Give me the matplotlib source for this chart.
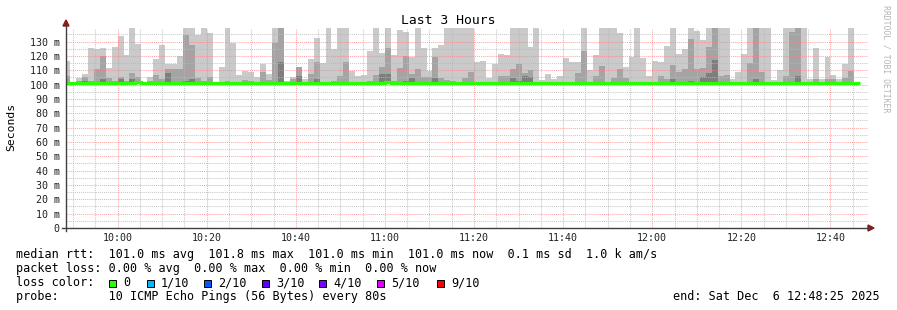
import matplotlib
matplotlib.use("Agg")
import matplotlib.pyplot as plt
from matplotlib.patches import Polygon, Rectangle
from matplotlib.lines import Line2D
from matplotlib.ticker import MultipleLocator, FuncFormatter

W, H = 897, 310
MONO = "DejaVu Sans Mono"

# rrd step layout (seconds of the day)
step_s = 80
first_step_s = 9 * 3600 + 48 * 60          # 09:48:00
view_start_s = 9 * 3600 + 48 * 60 + 25     # 09:48:25
view_end_s = 12 * 3600 + 48 * 60 + 25      # 12:48:25

# smoke: highest, 2nd and 3rd highest of the 10 pings per step (ms)
ping_max = [
    116.5, 102.0, 104.6, 107.4, 125.5, 124.8, 125.5, 111.6, 126.2, 133.9,
    121.0, 140.0, 128.3, 101.2, 105.3, 117.8, 127.6, 114.4, 114.4, 120.0,
    140.0, 140.0, 134.6, 140.0, 136.0, 101.2, 112.0, 140.0, 129.3, 106.7,
    109.8, 109.0, 105.1, 114.4, 107.4, 140.0, 140.0, 102.8, 105.3, 112.3,
    104.0, 117.8, 132.5, 114.8, 140.0, 124.8, 140.0, 140.0, 109.7, 106.0,
    106.7, 123.4, 140.0, 121.8, 140.0, 121.0, 138.0, 136.7, 119.3, 140.0,
    125.5, 109.5, 125.5, 127.6, 140.0, 140.0, 140.0, 140.0, 140.0, 115.8,
    116.5, 104.6, 114.4, 121.5, 121.0, 140.0, 140.0, 140.0, 126.2, 140.0,
    103.5, 107.4, 104.0, 106.0, 118.5, 116.0, 116.0, 140.0, 110.0, 121.0,
    140.0, 140.0, 140.0, 136.0, 112.3, 119.3, 140.0, 118.5, 106.0, 116.5,
    116.0, 126.9, 140.0, 121.5, 124.8, 140.0, 137.4, 131.1, 140.0, 140.0,
    140.0, 140.0, 104.0, 109.0, 121.5, 140.0, 140.0, 140.0, 140.0, 103.0,
    110.0, 140.0, 140.0, 140.0, 140.0, 104.0, 125.5, 104.0, 119.4, 107.0,
    104.0, 114.4, 140.0,
]
ping_2nd = [
    106.0, 101.5, 102.5, 105.3, 102.5, 110.7, 120.2, 104.6, 102.5, 105.3,
    102.5, 108.1, 105.3, 101.2, 102.5, 106.7, 104.0, 110.9, 110.9, 110.9,
    134.6, 127.6, 104.6, 102.5, 105.3, 101.2, 101.5, 102.5, 101.5, 101.5,
    103.5, 102.5, 102.0, 109.0, 103.0, 128.8, 140.0, 101.5, 103.7, 112.0,
    101.5, 107.4, 116.0, 101.5, 102.0, 102.5, 106.0, 115.8, 102.0, 101.5,
    102.0, 102.5, 106.7, 112.3, 125.5, 102.5, 111.9, 120.0, 107.4, 111.0,
    105.3, 105.0, 119.3, 104.6, 103.5, 102.5, 101.5, 104.6, 109.0, 102.0,
    101.5, 101.5, 101.5, 106.0, 106.0, 111.0, 114.4, 108.0, 110.0, 102.0,
    101.5, 102.0, 101.5, 101.5, 102.0, 102.0, 108.0, 123.5, 102.0, 106.0,
    113.0, 102.0, 104.6, 111.0, 104.6, 102.0, 102.0, 101.5, 102.0, 101.5,
    106.0, 104.0, 113.7, 109.0, 111.0, 131.8, 111.0, 111.6, 126.2, 140.0,
    106.0, 106.7, 101.5, 102.0, 102.0, 115.0, 140.0, 109.0, 102.0, 101.5,
    101.5, 106.0, 136.7, 140.0, 102.0, 101.5, 104.0, 101.5, 104.0, 104.0,
    101.5, 104.6, 109.5,
]
ping_3rd = [
    101.5, 101.2, 101.5, 102.5, 101.5, 102.0, 104.0, 102.0, 101.5, 104.0,
    101.5, 104.0, 102.5, 101.2, 101.5, 102.0, 102.0, 108.1, 102.0, 102.0,
    102.5, 104.0, 102.0, 101.5, 102.0, 101.2, 101.2, 101.5, 101.2, 101.2,
    102.0, 101.5, 101.5, 102.0, 101.5, 102.0, 116.0, 101.2, 101.5, 106.0,
    101.2, 102.0, 104.0, 101.2, 101.5, 101.5, 102.0, 102.0, 101.5, 101.2,
    101.5, 101.5, 102.0, 107.4, 107.4, 101.5, 102.0, 102.5, 104.6, 102.0,
    102.0, 102.0, 104.6, 102.0, 101.5, 101.5, 101.2, 102.0, 102.0, 101.5,
    101.2, 101.2, 101.2, 102.0, 102.0, 104.6, 102.5, 106.0, 105.6, 101.5,
    101.2, 101.5, 101.2, 101.2, 101.5, 101.5, 102.0, 102.0, 101.5, 102.0,
    102.0, 101.5, 102.0, 102.0, 102.0, 101.5, 101.5, 101.2, 101.5, 101.2,
    102.0, 102.0, 104.0, 102.0, 102.0, 102.5, 102.0, 105.0, 108.0, 117.2,
    102.0, 102.0, 101.2, 101.5, 101.5, 102.0, 104.0, 102.0, 101.5, 101.2,
    101.2, 102.0, 102.0, 106.0, 101.5, 101.2, 102.0, 101.2, 102.0, 101.5,
    101.2, 102.0, 102.0,
]
smoke_floor = 100.8   # lowest pings sit right under the median

# median rtt per step (one step more than the smoke)
median_rtt = [
    101.0, 101.0, 101.0, 101.0, 101.0, 101.0, 101.0, 101.0, 101.0, 101.0,
    101.0, 101.0, 101.8, 101.0, 101.0, 101.0, 101.0, 101.0, 101.0, 101.0,
    101.0, 101.0, 101.0, 101.0, 101.0, 101.0, 101.0, 101.0, 101.0, 101.0,
    101.0, 101.0, 101.0, 101.0, 101.0, 101.0, 101.0, 101.0, 101.0, 101.0,
    101.0, 101.0, 101.0, 101.0, 101.0, 101.0, 101.0, 101.0, 101.0, 101.0,
    101.0, 101.0, 101.0, 101.0, 101.8, 101.0, 101.0, 101.0, 101.0, 101.0,
    101.0, 101.0, 101.0, 101.0, 101.0, 101.0, 101.0, 101.0, 101.0, 101.0,
    101.0, 101.0, 101.0, 101.0, 101.0, 101.0, 101.0, 101.0, 101.0, 101.0,
    101.0, 101.0, 101.0, 101.0, 101.0, 101.0, 101.0, 101.0, 101.0, 101.0,
    101.0, 101.0, 101.0, 101.0, 101.0, 101.0, 101.0, 101.0, 101.0, 101.0,
    101.0, 101.0, 101.0, 101.0, 101.0, 101.0, 101.0, 101.0, 101.0, 101.0,
    101.0, 101.0, 101.0, 101.0, 101.0, 101.0, 101.0, 101.0, 101.0, 101.0,
    101.0, 101.0, 101.0, 101.0, 101.0, 101.0, 101.0, 101.0, 101.0, 101.0,
    101.0, 101.0, 101.0, 101.0,
]

loss_labels = ["0", "1/10", "2/10", "3/10", "4/10", "5/10", "9/10"]
loss_colors = ["#26ff00", "#00b8ff", "#0059ff", "#5e00ff", "#7e00ff", "#dd00ff", "#ff0000"]

stats_line = "median rtt:  101.0 ms avg  101.8 ms max  101.0 ms min  101.0 ms now  0.1 ms sd  1.0 k am/s"
loss_line = "packet loss: 0.00 % avg  0.00 % max  0.00 % min  0.00 % now"
probe_line = "probe:       10 ICMP Echo Pings (56 Bytes) every 80s"
end_line = "end: Sat Dec  6 12:48:25 2025"


def fx(x):
    return x / W


def fy(y):
    return 1 - y / H


fig = plt.figure(figsize=(W / 100, H / 100), dpi=100)
fig.patch.set_facecolor("white")
ax = fig.add_axes([fx(66), fy(228), fx(868) - fx(66), fy(28) - fy(228)])

n = len(ping_max)
step_min = step_s / 60
t_edges = [(first_step_s + i * step_s) / 60 for i in range(len(median_rtt) + 1)]
t_left = t_edges[:n]

# smoke layers, outer pair lightest
for vals, col in [(ping_max, "#cacaca"), (ping_2nd, "#a4a4a4"), (ping_3rd, "#7e7e7e")]:
    ax.bar(t_left, [v - smoke_floor for v in vals], width=step_min, bottom=smoke_floor,
           align="edge", color=col, linewidth=0, zorder=1)

ax.stairs(median_rtt, t_edges, color=loss_colors[0], linewidth=2.3, baseline=None, zorder=3)

ax.set_xlim(view_start_s / 60, view_end_s / 60)
ax.set_ylim(0, 139.5)

ax.xaxis.set_major_locator(MultipleLocator(20))
ax.xaxis.set_minor_locator(MultipleLocator(5))
ax.yaxis.set_major_locator(MultipleLocator(10))
ax.yaxis.set_minor_locator(MultipleLocator(5))
ax.xaxis.set_major_formatter(FuncFormatter(lambda v, p: "%d:%02d" % (int(round(v)) // 60, int(round(v)) % 60)))
ax.yaxis.set_major_formatter(FuncFormatter(lambda v, p: "0" if v == 0 else "%d m" % v))

ax.set_axisbelow(False)
ax.grid(which="major", color="#ff8080", alpha=0.7, linestyle=(0, (1, 1)), linewidth=0.75)
ax.grid(which="minor", color="#bababa", alpha=0.8, linestyle=(0, (1, 1)), linewidth=0.75)

ax.tick_params(which="both", length=0)
ax.tick_params(axis="y", pad=4.5, labelsize=7.2)
ax.tick_params(axis="x", pad=3.5, labelsize=7.2)
for lab in ax.get_xticklabels() + ax.get_yticklabels():
    lab.set_fontfamily(MONO)
    lab.set_color("#202020")
for sp in ax.spines.values():
    sp.set_visible(False)

# rrdtool style axes with arrows
fig.add_artist(Line2D([fx(66), fx(66)], [fy(231), fy(25)], color="#404040", lw=1.0, transform=fig.transFigure))
fig.add_artist(Line2D([fx(62), fx(869)], [fy(228), fy(228)], color="#404040", lw=1.0, transform=fig.transFigure))
fig.add_artist(Polygon([[fx(63), fy(26)], [fx(69), fy(26)], [fx(66), fy(20)]], closed=True,
                       color="#8b1a1a", transform=fig.transFigure))
fig.add_artist(Polygon([[fx(868), fy(225)], [fx(868), fy(231)], [fx(874), fy(228)]], closed=True,
                       color="#8b1a1a", transform=fig.transFigure))

fig.text(fx(448), fy(20), "Last 3 Hours", ha="center", va="center", fontsize=9.4, family=MONO)
fig.text(fx(11), fy(127), "Seconds", rotation=90, ha="center", va="center", fontsize=8.2, family=MONO)
fig.text(fx(886), fy(59), "RRDTOOL / TOBI OETIKER", rotation=270, ha="center", va="center",
         fontsize=5.9, family=MONO, color="#b4b4b4")

fs = 8.5
fig.text(fx(16), fy(254.5), stats_line, ha="left", va="center", fontsize=fs, family=MONO)
fig.text(fx(16), fy(268.5), loss_line, ha="left", va="center", fontsize=fs, family=MONO)
fig.text(fx(16), fy(282.5), "loss color:", ha="left", va="center", fontsize=fs, family=MONO)
box_x = [109, 147, 204, 262, 319, 377, 437]
for bx, lab, col in zip(box_x, loss_labels, loss_colors):
    fig.add_artist(Rectangle((fx(bx), fy(286.5)), 7 / W, 7 / H, facecolor=col, edgecolor="black",
                             linewidth=0.7, transform=fig.transFigure))
    fig.text(fx(bx + 14), fy(282.5), lab, ha="left", va="center", fontsize=fs, family=MONO)
fig.text(fx(16), fy(296.5), probe_line, ha="left", va="center", fontsize=fs, family=MONO)
fig.text(fx(880), fy(296.5), end_line, ha="right", va="center", fontsize=fs, family=MONO)

fig.savefig("out.png", dpi=100, facecolor="white")
